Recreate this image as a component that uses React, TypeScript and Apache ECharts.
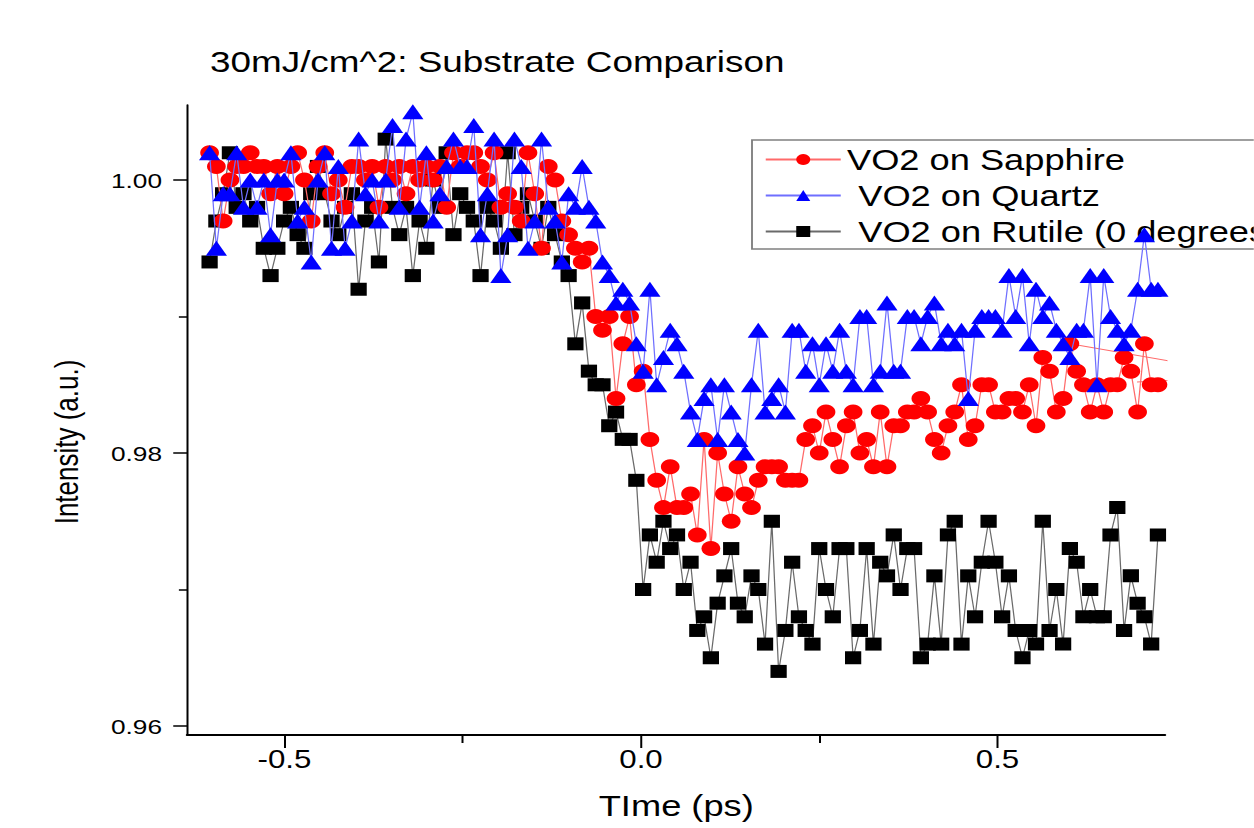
import React, { useEffect, useRef } from "react";
import * as echarts from "echarts";

// Sampling grid of the pump-probe scan (ps)
const TIME_START = -0.605;
const TIME_STEP = 0.0095;

const SERIES_NAMES = ["VO2 on Sapphire", "VO2 on Quartz", "VO2 on Rutile (0 degrees)"];

const sapphire = [
  1.002, 1.001, 0.997, 1.0, 1.001, 1.001, 1.002, 1.001, 1.001, 0.999,
  1.001, 0.999, 1.001, 1.002, 1.0, 0.997, 1.001, 1.002, 0.999, 1.0,
  0.998, 1.001, 1.001, 1.0, 1.001, 0.998, 1.001, 1.0, 1.001, 0.999,
  1.001, 1.0, 1.001, 1.0, 1.001, 0.998, 1.002, 1.001, 1.002, 1.002,
  1.001, 1.0, 1.002, 0.998, 0.999, 0.998, 0.997, 1.002, 0.999, 0.995,
  1.001, 1.0, 0.997, 0.996, 0.995, 0.994, 0.995, 0.99, 0.989, 0.99,
  0.984, 0.988, 0.99, 0.985, 0.986, 0.981, 0.978, 0.976, 0.979, 0.976,
  0.976, 0.977, 0.974, 0.981, 0.973, 0.98, 0.977, 0.975, 0.979, 0.977,
  0.976, 0.978, 0.979, 0.979, 0.979, 0.978, 0.978, 0.978, 0.981, 0.982,
  0.98, 0.983, 0.981, 0.979, 0.982, 0.983, 0.98, 0.981, 0.979, 0.983,
  0.979, 0.982, 0.982, 0.983, 0.983, 0.984, 0.983, 0.981, 0.98, 0.982,
  0.983, 0.985, 0.981, 0.982, 0.985, 0.985, 0.983, 0.983, 0.984, 0.984,
  0.983, 0.985, 0.982, 0.987, 0.986, 0.983, 0.984, 0.988, 0.986, 0.985,
  0.983, 0.985, 0.983, 0.985, 0.985, 0.987, 0.986, 0.983, 0.988, 0.985,
  0.985,
];

// Out-of-order Sapphire samples (time, intensity) whose connecting segments run off the right edge
const sapphireStray = [
  [0.6017, 0.988],
  [0.857, 0.9857],
  [0.6957, 0.9852],
];

const quartz = [
  1.002, 0.995, 0.999, 0.999, 1.002, 0.998, 1.0, 0.998, 1.0, 0.996,
  1.0, 1.0, 1.002, 0.997, 0.998, 0.994, 1.0, 1.002, 0.995, 1.001,
  0.995, 0.997, 1.003, 0.999, 1.0, 0.997, 1.0, 1.004, 0.998, 1.003,
  1.005, 0.998, 1.002, 0.997, 0.999, 1.001, 1.003, 1.001, 1.001, 1.004,
  0.996, 0.999, 1.003, 0.993, 0.996, 1.003, 1.001, 0.995, 0.997, 1.003,
  0.998, 0.997, 0.994, 0.999, 0.998, 1.001, 0.998, 0.997, 0.994, 0.993,
  0.991, 0.992, 0.991, 0.988, 0.986, 0.992, 0.985, 0.987, 0.989, 0.988,
  0.986, 0.983, 0.981, 0.984, 0.985, 0.981, 0.985, 0.983, 0.981, 0.98,
  0.985, 0.989, 0.983, 0.984, 0.985, 0.983, 0.989, 0.989, 0.986, 0.988,
  0.985, 0.988, 0.986, 0.989, 0.986, 0.985, 0.99, 0.99, 0.985, 0.986,
  0.991, 0.986, 0.986, 0.99, 0.99, 0.988, 0.99, 0.991, 0.988, 0.989,
  0.988, 0.989, 0.984, 0.989, 0.99, 0.99, 0.99, 0.989, 0.993, 0.99,
  0.993, 0.988, 0.992, 0.99, 0.991, 0.989, 0.988, 0.987, 0.989, 0.989,
  0.993, 0.985, 0.993, 0.99, 0.989, 0.988, 0.989, 0.992, 0.996, 0.992,
  0.992,
];

const rutile = [
  0.994, 0.997, 0.999, 1.002, 0.998, 0.999, 0.997, 0.998, 0.995, 0.993,
  0.995, 0.997, 0.998, 0.996, 0.995, 0.999, 1.001, 0.999, 0.997, 0.996,
  0.998, 0.999, 0.992, 0.997, 0.998, 0.994, 1.003, 0.998, 0.996, 0.998,
  0.993, 0.997, 0.995, 1.0, 0.998, 1.002, 0.996, 0.999, 0.998, 0.997,
  0.993, 0.998, 0.997, 0.995, 1.002, 0.996, 0.998, 0.999, 0.997, 0.995,
  0.998, 0.996, 0.994, 0.993, 0.988, 0.991, 0.986, 0.985, 0.985, 0.982,
  0.983, 0.981, 0.981, 0.978, 0.97, 0.974, 0.972, 0.975, 0.973, 0.974,
  0.97, 0.972, 0.967, 0.968, 0.965, 0.969, 0.971, 0.973, 0.969, 0.968,
  0.971, 0.97, 0.966, 0.975, 0.964, 0.967, 0.972, 0.968, 0.967, 0.966,
  0.973, 0.97, 0.968, 0.973, 0.973, 0.965, 0.967, 0.973, 0.966, 0.972,
  0.971, 0.974, 0.97, 0.973, 0.973, 0.965, 0.966, 0.971, 0.966, 0.974,
  0.975, 0.966, 0.971, 0.968, 0.972, 0.975, 0.972, 0.968, 0.971, 0.967,
  0.965, 0.967, 0.966, 0.975, 0.967, 0.97, 0.966, 0.973, 0.972, 0.968,
  0.97, 0.968, 0.968, 0.974, 0.976, 0.967, 0.971, 0.969, 0.968, 0.966,
  0.974,
];

const X_MIN = -0.6367;
const X_MAX = 0.7349;
const Y_MIN = 0.95934;
const Y_MAX = 1.0055;
const X_MAJOR = [-0.5, 0, 0.5];
const X_MINOR = [-0.25, 0.25];
const Y_MAJOR = [0.96, 0.98, 1.0];
const Y_MINOR = [0.97, 0.99];

const TITLE = "30mJ/cm^2: Substrate Comparison";
const X_TITLE = "TIme (ps)";
const Y_TITLE = "Intensity (a.u.)";

const FONT = "'Liberation Sans', Arial, sans-serif";
const STRETCH = 1.25;
const W = 1254 / STRETCH;
const H = 828;

const toPairs = (vals: number[]) => vals.map((v, i) => [TIME_START + i * TIME_STEP, v]);

export default function App() {
  const ref = useRef<HTMLDivElement>(null);
  useEffect(() => {
    if (!ref.current) return;
    const chart = echarts.init(ref.current, null, { renderer: "svg" });
    const gridLeft = 187 / STRETCH;
    const gridRight = 1165 / STRETCH;
    const axisBase = {
      type: "value" as const,
      splitLine: { show: false },
    };
    const red = { color: "#ff6a6a", width: 1 };
    chart.setOption({
      animation: false,
      backgroundColor: "#ffffff",
      grid: { left: gridLeft, top: 105, width: gridRight - gridLeft, height: 630 },
      xAxis: [
        {
          ...axisBase,
          min: X_MIN,
          max: X_MAX,
          position: "bottom",
          axisLine: { show: true, onZero: false, lineStyle: { color: "#000", width: 2 } },
          axisTick: { show: true, length: 13, customValues: X_MAJOR, lineStyle: { color: "#000", width: 1.6 } },
          axisLabel: {
            customValues: X_MAJOR,
            formatter: (v: number) => v.toFixed(1),
            fontSize: 25,
            color: "#000",
            margin: 12,
            fontFamily: FONT,
          },
        },
        {
          ...axisBase,
          min: X_MIN,
          max: X_MAX,
          position: "bottom",
          axisLine: { show: false, onZero: false },
          axisTick: { show: true, length: 8, customValues: X_MINOR, lineStyle: { color: "#000", width: 1.6 } },
          axisLabel: { show: false },
        },
      ],
      yAxis: [
        {
          ...axisBase,
          min: Y_MIN,
          max: Y_MAX,
          position: "left",
          axisLine: { show: true, onZero: false, lineStyle: { color: "#000", width: 1.6 } },
          axisTick: { show: true, length: 11, customValues: Y_MAJOR, lineStyle: { color: "#000", width: 1.5 } },
          axisLabel: {
            customValues: Y_MAJOR,
            formatter: (v: number) => v.toFixed(2),
            fontSize: 21,
            color: "#000",
            margin: 20,
            fontFamily: FONT,
          },
        },
        {
          ...axisBase,
          min: Y_MIN,
          max: Y_MAX,
          position: "left",
          axisLine: { show: false, onZero: false },
          axisTick: { show: true, length: 6.5, customValues: Y_MINOR, lineStyle: { color: "#000", width: 1.5 } },
          axisLabel: { show: false },
        },
      ],
      legend: {
        orient: "vertical",
        left: 601.6,
        top: 140,
        padding: [5, 10, 3, 10],
        itemGap: 7,
        itemWidth: 60,
        itemHeight: 14,
        borderColor: "#808080",
        borderWidth: 1.5,
        textStyle: { fontSize: 29, color: "#000", fontFamily: FONT },
        data: [
          { name: SERIES_NAMES[0] },
          { name: SERIES_NAMES[1], textStyle: { padding: [0, 0, 0, 9] } },
          { name: SERIES_NAMES[2], textStyle: { padding: [0, 0, 0, 9] } },
        ],
      },
      graphic: [
        {
          type: "text",
          x: 168,
          y: 62,
          style: { text: TITLE, fontSize: 29.5, fill: "#000", fontFamily: FONT, align: "left", verticalAlign: "middle" },
        },
        {
          type: "text",
          x: 541,
          y: 806,
          style: { text: X_TITLE, fontSize: 29, fill: "#000", fontFamily: FONT, align: "center", verticalAlign: "middle" },
        },
        {
          type: "text",
          x: 53,
          y: 442,
          rotation: Math.PI / 2,
          style: { text: Y_TITLE, fontSize: 26, fill: "#000", fontFamily: FONT, align: "center", verticalAlign: "middle" },
        },
      ],
      series: [
        {
          name: SERIES_NAMES[0],
          type: "line",
          z: 3,
          data: toPairs(sapphire),
          symbol: "circle",
          symbolSize: 15,
          itemStyle: { color: "#ff0000" },
          lineStyle: red,
          clip: true,
        },
        {
          name: SERIES_NAMES[1],
          type: "line",
          z: 4,
          data: toPairs(quartz),
          symbol: "triangle",
          symbolSize: [17, 15],
          itemStyle: { color: "#0000ff" },
          lineStyle: { color: "#6f6fff", width: 1 },
          clip: true,
        },
        {
          name: SERIES_NAMES[2],
          type: "line",
          z: 2,
          data: toPairs(rutile),
          symbol: "rect",
          symbolSize: [13, 13],
          itemStyle: { color: "#000000" },
          lineStyle: { color: "#6a6a6a", width: 1 },
          clip: true,
        },
        {
          name: "sapphire-stray",
          type: "line",
          z: 2,
          data: sapphireStray,
          symbol: "none",
          lineStyle: red,
          clip: true,
          silent: true,
        },
      ],
    });
    return () => chart.dispose();
  }, []);
  return (
    <div
      ref={ref}
      style={{
        position: "absolute",
        left: 0,
        top: 0,
        width: W,
        height: H,
        transform: `scaleX(${STRETCH})`,
        transformOrigin: "0 0",
        background: "#fff",
      }}
    />
  );
}
